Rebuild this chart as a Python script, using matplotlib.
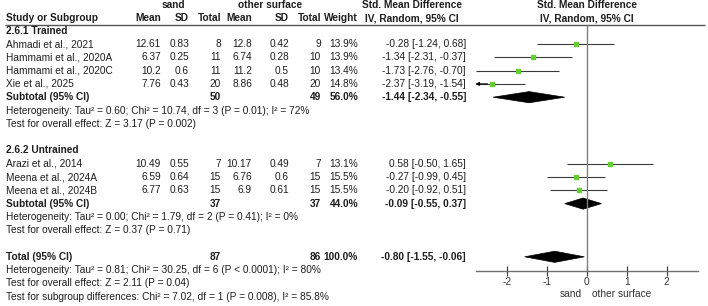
import matplotlib
matplotlib.use("Agg")
import matplotlib.pyplot as plt
from matplotlib.patches import Polygon

plt.rcParams['font.family'] = ['Liberation Sans', 'DejaVu Sans']

# study level data
studies = ["Ahmadi et al., 2021", "Hammami et al., 2020A", "Hammami et al., 2020C",
           "Xie et al., 2025", "Arazi et al., 2014", "Meena et al., 2024A", "Meena et al., 2024B"]
group = [0, 0, 0, 0, 1, 1, 1]
sand_mean = [12.61, 6.37, 10.2, 7.76, 10.49, 6.59, 6.77]
sand_sd = [0.83, 0.25, 0.6, 0.43, 0.55, 0.64, 0.63]
sand_n = [8, 11, 11, 20, 7, 15, 15]
oth_mean = [12.8, 6.74, 11.2, 8.86, 10.17, 6.76, 6.9]
oth_sd = [0.42, 0.28, 0.5, 0.48, 0.49, 0.6, 0.61]
oth_n = [9, 10, 10, 20, 7, 15, 15]
weight = [13.9, 13.9, 13.4, 14.8, 13.1, 15.5, 15.5]
smd = [-0.28, -1.34, -1.73, -2.37, 0.58, -0.27, -0.20]
smd_lo = [-1.24, -2.31, -2.76, -3.19, -0.50, -0.99, -0.92]
smd_hi = [0.68, -0.37, -0.70, -1.54, 1.65, 0.45, 0.51]

# subgroups
sub_names = ["2.6.1 Trained", "2.6.2 Untrained"]
sub_sand_n = [50, 37]
sub_oth_n = [49, 37]
sub_weight = [56.0, 44.0]
sub_est = [-1.44, -0.09]
sub_lo = [-2.34, -0.55]
sub_hi = [-0.55, 0.37]
sub_het = ["Heterogeneity: Tau² = 0.60; Chi² = 10.74, df = 3 (P = 0.01); I² = 72%",
           "Heterogeneity: Tau² = 0.00; Chi² = 1.79, df = 2 (P = 0.41); I² = 0%"]
sub_test = ["Test for overall effect: Z = 3.17 (P = 0.002)",
            "Test for overall effect: Z = 0.37 (P = 0.71)"]

# overall
tot_sand_n, tot_oth_n = 87, 86
tot_est, tot_lo, tot_hi = -0.80, -1.55, -0.06
tot_lines = ["Heterogeneity: Tau² = 0.81; Chi² = 30.25, df = 6 (P < 0.0001); I² = 80%",
             "Test for overall effect: Z = 2.11 (P = 0.04)",
             "Test for subgroup differences: Chi² = 7.02, df = 1 (P = 0.008), I² = 85.8%"]

xticks = [-2, -1, 0, 1, 2]

W, H = 708, 306
fig = plt.figure(figsize=(W / 100, H / 100), dpi=100)
# rows: y = 30.7 + 13.3 * r (pixels)
ytop, ybot = -30.7 / 13.3, (H - 30.7) / 13.3

tab = fig.add_axes([0, 0, 1, 1])
tab.set_xlim(0, W)
tab.set_ylim(ybot, ytop)
tab.axis('off')

xmin, xmax = -2.78, 2.78
px_unit = 40.0
left_px = 586.7 + xmin * px_unit
fp = fig.add_axes([left_px / W, 0, (xmax - xmin) * px_unit / W, 1])
fp.set_xlim(xmin, xmax)
fp.set_ylim(ybot, ytop)
fp.patch.set_alpha(0)

fs = 7.3
tc = '#1e1e1e'
col = dict(name=6, sm=161, ssd=189, sn=221, om=252, osd=289, on=321, w=358, ci=466)


def txt(x, r, s, ha='right', bold=False):
    tab.text(x, r, s, ha=ha, va='center', fontsize=fs, color=tc,
             fontweight='bold' if bold else 'normal')


def fmt(v):
    return f"{v:g}"


def ci_str(e, l, h):
    return f"{e:.2f} [{l:.2f}, {h:.2f}]"


# headers
txt(173, -1.9, "sand", ha='center', bold=True)
txt(270, -1.9, "other surface", ha='center', bold=True)
txt(412, -1.9, "Std. Mean Difference", ha='center', bold=True)
txt(586.7, -1.9, "Std. Mean Difference", ha='center', bold=True)
txt(col['name'], -0.95, "Study or Subgroup", ha='left', bold=True)
for key, lab in [('sm', 'Mean'), ('ssd', 'SD'), ('sn', 'Total'), ('om', 'Mean'),
                 ('osd', 'SD'), ('on', 'Total'), ('w', 'Weight')]:
    txt(col[key], -0.95, lab, bold=True)
txt(412, -0.95, "IV, Random, 95% CI", ha='center', bold=True)
txt(586.7, -0.95, "IV, Random, 95% CI", ha='center', bold=True)
tab.hlines(-0.43, 5, 705, color='#555555', lw=1.0)

diamond_h = 0.42
line_c = '#3a3a3a'


def diamond(r, e, l, h):
    fp.add_patch(Polygon([(l, r), (e, r - diamond_h), (h, r), (e, r + diamond_h)],
                         closed=True, fc='black', ec='black', lw=0.5))


r = 0
for g in range(len(sub_names)):
    txt(col['name'], r, sub_names[g], ha='left', bold=True)
    r += 1
    for i in range(len(studies)):
        if group[i] != g:
            continue
        txt(col['name'], r, studies[i], ha='left')
        txt(col['sm'], r, fmt(sand_mean[i]))
        txt(col['ssd'], r, fmt(sand_sd[i]))
        txt(col['sn'], r, str(sand_n[i]))
        txt(col['om'], r, fmt(oth_mean[i]))
        txt(col['osd'], r, fmt(oth_sd[i]))
        txt(col['on'], r, str(oth_n[i]))
        txt(col['w'], r, f"{weight[i]:.1f}%")
        txt(col['ci'], r, ci_str(smd[i], smd_lo[i], smd_hi[i]))
        lo = max(smd_lo[i], xmin)
        hi = min(smd_hi[i], xmax)
        fp.hlines(r, lo, hi, color=line_c, lw=0.8)
        if smd_lo[i] < xmin:
            fp.annotate("", xy=(xmin, r), xytext=(xmin + 0.3, r),
                        arrowprops=dict(arrowstyle='-|>', color='black', lw=0.8,
                                        mutation_scale=5, shrinkA=0, shrinkB=0))
        fp.plot(smd[i], r, 's', color='#66CC33', ms=weight[i] ** 0.5 * 0.85,
                mec='#66CC33', zorder=3)
        r += 1
    txt(col['name'], r, "Subtotal (95% CI)", ha='left', bold=True)
    txt(col['sn'], r, str(sub_sand_n[g]), bold=True)
    txt(col['on'], r, str(sub_oth_n[g]), bold=True)
    txt(col['w'], r, f"{sub_weight[g]:.1f}%", bold=True)
    txt(col['ci'], r, ci_str(sub_est[g], sub_lo[g], sub_hi[g]), bold=True)
    diamond(r, sub_est[g], sub_lo[g], sub_hi[g])
    r += 1
    txt(col['name'], r, sub_het[g], ha='left')
    r += 1
    txt(col['name'], r, sub_test[g], ha='left')
    r += 2

txt(col['name'], r, "Total (95% CI)", ha='left', bold=True)
txt(col['sn'], r, str(tot_sand_n), bold=True)
txt(col['on'], r, str(tot_oth_n), bold=True)
txt(col['w'], r, f"{sum(sub_weight):.1f}%", bold=True)
txt(col['ci'], r, ci_str(tot_est, tot_lo, tot_hi), bold=True)
diamond(r, tot_est, tot_lo, tot_hi)
for k, s in enumerate(tot_lines):
    txt(col['name'], r + 1 + k, s, ha='left')

# axis of the forest plot
axis_r = (271 - 30.7) / 13.3
fp.vlines(0, -0.43, axis_r, color='#808080', lw=1.0)
for s in ['top', 'left', 'right']:
    fp.spines[s].set_visible(False)
fp.spines['bottom'].set_position(('data', axis_r))
fp.spines['bottom'].set_color('#707070')
fp.spines['bottom'].set_linewidth(1.0)
fp.set_yticks([])
fp.set_xticks(xticks)
fp.set_xticklabels([f"{t:d}" for t in xticks])
fp.tick_params(axis='x', direction='inout', length=7, width=0.9, color='#404040',
               labelsize=fs, labelcolor='#333333', pad=1)
fp.text(-0.12, 19.8, "sand", ha='right', va='center', fontsize=fs, color='#333333')
fp.text(0.13, 19.8, "other surface", ha='left', va='center', fontsize=fs, color='#333333')

fig.savefig("out.png", dpi=100)
